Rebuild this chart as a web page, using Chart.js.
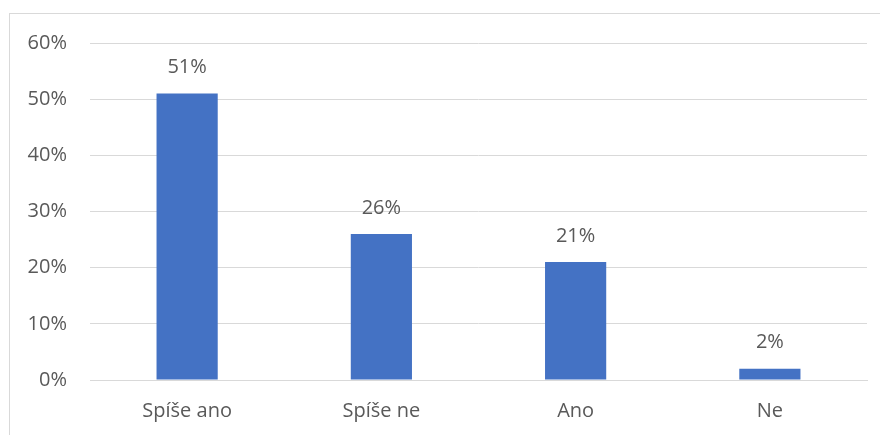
<!DOCTYPE html>
<html>
<head>
<meta charset="utf-8">
<script src="https://cdn.jsdelivr.net/npm/chart.js@4.4.0/dist/chart.umd.min.js"></script>
<style>
  html, body { margin: 0; padding: 0; background: #fff; }
  #wrap { width: 880px; height: 435px; }
</style>
</head>
<body>
<div id="wrap"><canvas id="chart" width="880" height="435"></canvas></div>
<script>
const categories = ['Spíše ano', 'Spíše ne', 'Ano', 'Ne'];
const values = [51, 26, 21, 2];
const yTicks = [0, 10, 20, 30, 40, 50, 60];

const textColor = '#595959';
const gridColor = '#d9d9d9';
const fontFamily = '"Open Sans"';

// outer chart frame like the office export
const framePlugin = {
    id: 'frame',
    beforeDraw(chart) {
        const c = chart.ctx;
        c.save();
        c.strokeStyle = '#d9d9d9';
        c.lineWidth = 1;
        c.strokeRect(9.5, 13.5, 1000, 1000);
        c.restore();
    }
};

// value labels above bars
const labelPlugin = {
    id: 'valueLabels',
    afterDatasetsDraw(chart) {
        const c = chart.ctx;
        const meta = chart.getDatasetMeta(0);
        c.save();
        c.font = '20px ' + fontFamily;
        c.fillStyle = textColor;
        c.textAlign = 'center';
        c.textBaseline = 'middle';
        meta.data.forEach((bar, i) => {
            c.fillText(values[i] + '%', bar.x, bar.y - 26);
        });
        c.restore();
    }
};

new Chart(document.getElementById('chart').getContext('2d'), {
    type: 'bar',
    data: {
        labels: categories,
        datasets: [{
            data: values,
            backgroundColor: '#4472c4',
            borderWidth: 0,
            categoryPercentage: 1,
            barPercentage: 0.315,
        }],
    },
    options: {
        responsive: false,
        animation: false,
        layout: { padding: { top: 43, right: 13, left: 0, bottom: 0 } },
        plugins: {
            legend: { display: false },
            tooltip: { enabled: false },
        },
        scales: {
            x: {
                grid: { display: false, drawTicks: false },
                border: { display: true, color: gridColor, width: 1 },
                ticks: {
                    color: textColor,
                    font: { family: fontFamily, size: 20 },
                    padding: 19,
                    maxRotation: 0,
                },
                afterFit: (scale) => { scale.height = 55; },
            },
            y: {
                min: 0,
                max: 60,
                afterBuildTicks: (scale) => {
                    scale.ticks = yTicks.map(v => ({ value: v }));
                },
                grid: { color: gridColor, lineWidth: 1, drawTicks: false },
                border: { display: false },
                ticks: {
                    color: textColor,
                    font: { family: fontFamily, size: 20 },
                    padding: 23,
                    callback: (v) => v + '%',
                },
                afterFit: (scale) => { scale.width = 90; },
            },
        },
    },
    plugins: [framePlugin, labelPlugin],
});
</script>
</body>
</html>
